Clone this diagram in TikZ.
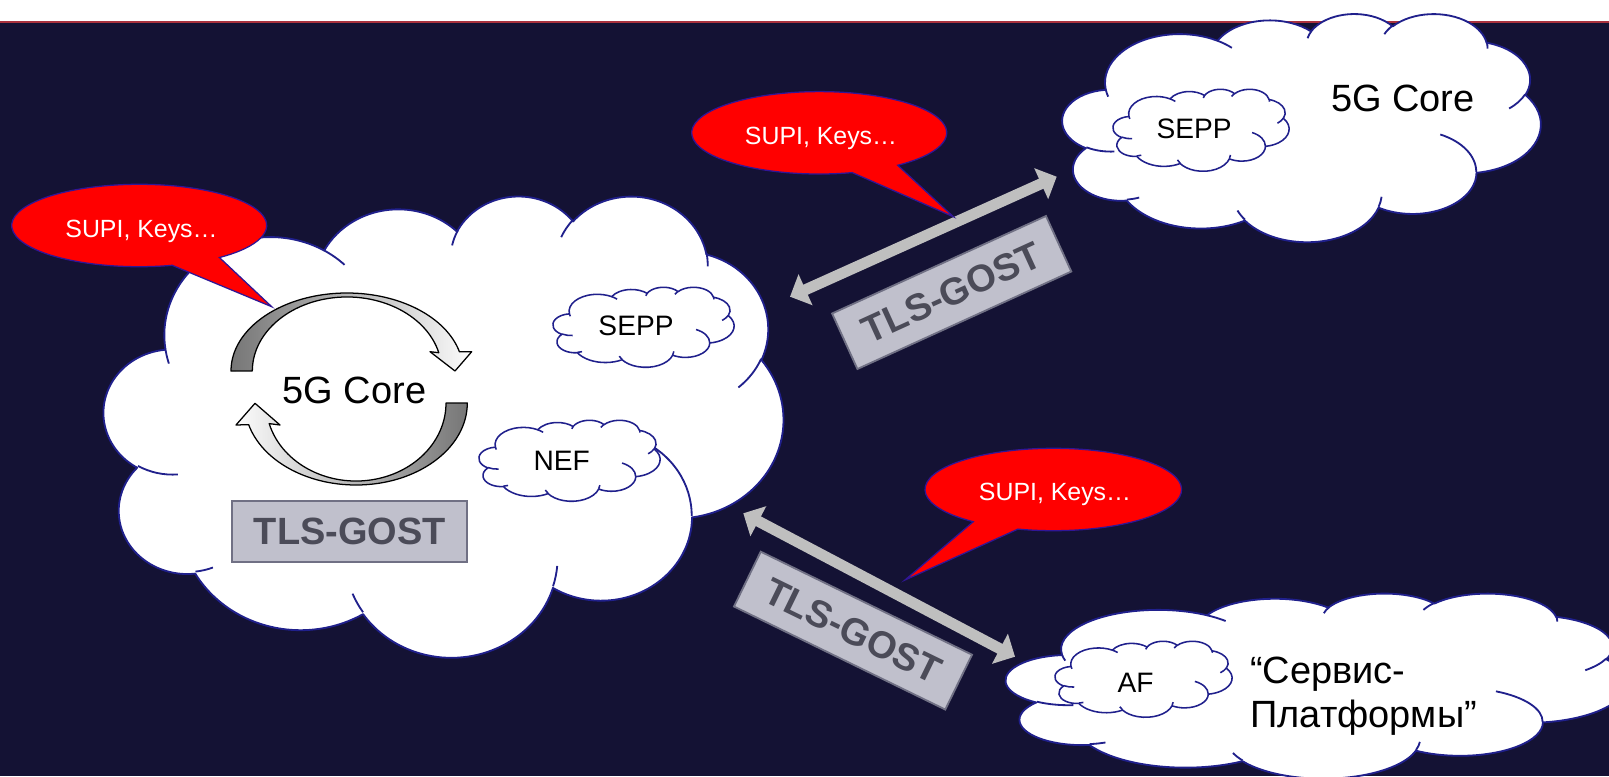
\documentclass[tikz,border=0pt]{standalone}
\usepackage{fontspec}
\setmainfont{Liberation Sans}
\usetikzlibrary{arrows.meta}

\definecolor{navybg}{RGB}{20,18,52}
\definecolor{headred}{RGB}{170,50,62}
\definecolor{cloudblue}{RGB}{32,32,140}
\definecolor{bubred}{RGB}{255,0,0}
\definecolor{bubline}{RGB}{48,22,150}
\definecolor{tlsfill}{RGB}{192,192,204}
\definecolor{tlsline}{RGB}{112,112,132}
\definecolor{tlstext}{RGB}{75,75,88}
\definecolor{linkgray}{RGB}{191,191,191}
\definecolor{ringdark}{RGB}{118,118,118}
\definecolor{ringlight}{RGB}{252,252,252}

% elliptic arc given DrawingML style: x radius, y radius, start angle, sweep
% (visual angles of the ellipse, turned into parametric ones)
\newcommand\ooarc[4]{arc[x radius=#1, y radius=#2, start angle={atan2((#1)*sin(#3),(#2)*cos(#3))}, delta angle={mod(atan2((#1)*sin((#3)+(#4)),(#2)*cos((#3)+(#4)))-atan2((#1)*sin(#3),(#2)*cos(#3))+720,360)}]}

% cloud in a 100 x 100 frame: #1,#2 left/top, #3,#4 frame unit (cm), #5 style
\newcommand\cloudshape[5]{%
  \begin{scope}[shift={(#1,#2)}, x=#3cm, y=-#4cm]
    \path[#5] (9.0278,33.2639)
      \ooarc{15.6319}{21.2731}{-190.4875}{123.7805}
      \ooarc{12.3449}{16.8218}{-144.1024}{89.9452}
      \ooarc{10.1042}{13.7616}{-145.8079}{99.7230}
      \ooarc{11.2431}{15.2662}{-130.9861}{117.2417}
      \ooarc{12.3449}{16.8356}{-78.7089}{109.0269}
      \ooarc{15.6829}{21.3426}{-46.2673}{130.2690}
      \ooarc{13.3912}{18.2106}{0.6250}{114.0333}
      \ooarc{15.6296}{21.3310}{22.4516}{115.1726}
      \ooarc{17.8704}{24.4051}{66.2426}{75.7110}
      \ooarc{10.0926}{13.6991}{-274.9421}{146.7356}
      \ooarc{10.0579}{13.7616}{-246.8285}{152.5189}
      -- cycle;
    \path[#5, fill=none]
      (10.8634,60.5949) \ooarc{10.0579}{13.7616}{86.742}{26.4295}
      (16.0370,80.7847) \ooarc{10.0926}{13.6991}{73.6105}{11.4475}
      (38.1435,90.4861) \ooarc{15.6296}{21.3310}{137.6242}{14.0811}
      (66.7292,80.4421) \ooarc{15.6296}{21.3310}{6.4533}{15.9984}
      (79.0023,53.1343) \ooarc{13.3912}{18.2106}{-70.2924}{70.9174}
      (96.7546,35.5417) \ooarc{12.3449}{16.8356}{30.3180}{27.7515}
      (88.7130,12.5602) \ooarc{11.2431}{15.2662}{-13.7443}{14.8589}
      (67.3102,9.1481) \ooarc{11.2431}{15.2662}{-149.1815}{18.1954}
      (51.2523,10.9259) \ooarc{10.1042}{13.7616}{-163.4943}{17.6864}
      (32.4074,12.0185) \ooarc{15.6319}{21.2731}{-66.7070}{12.3194}
      (9.5532,36.5486) \ooarc{15.6319}{21.2731}{157.6544}{11.8582};
  \end{scope}}

\begin{document}
\begin{tikzpicture}[x=0.025cm, y=-0.025cm,
  cloudbody/.style={fill=white, draw=cloudblue, line width=1.3pt, line join=round},
  smallcloud/.style={fill=white, draw=cloudblue, line width=1.1pt, line join=round},
  lbl/.style={inner sep=0pt, anchor=base},
  big/.style={font=\fontsize{27}{32}\selectfont},
  mid/.style={font=\fontsize{20}{24}\selectfont},
  sup/.style={font=\fontsize{17.7}{21}\selectfont, text=white},
  bubble/.style={fill=bubred, draw=bubline, line width=0.9pt, line join=miter},
  tlsbox/.style={draw=tlsline, fill=tlsfill, line width=1.3pt, minimum width=5.875cm,
    minimum height=1.525cm, inner sep=0pt, text=tlstext,
    font=\fontsize{27}{32}\selectfont\bfseries},
  link/.style={draw=linkgray, line width=7.8pt,
    {Triangle[length=12.1pt,width=23.5pt]}-{Triangle[length=12.1pt,width=23.5pt]}},
  ringarrow/.style={draw=black, line width=0.9pt, line join=round}]

\useasboundingbox (0,0) rectangle (1609,776);

% backdrop and header strip
\fill[navybg] (0,0) rectangle (1609,776);
\fill[white] (0,0) rectangle (1609,21);
\fill[headred] (0,21) rectangle (1609,23.3);

% home network cloud
\cloudshape{104}{195}{0.16975}{0.11525}{cloudbody}
\cloudshape{553}{287}{0.04525}{0.02}{smallcloud}
\cloudshape{479}{420}{0.04525}{0.02025}{smallcloud}

% circular arrows around the core
\path[ringarrow, left color=ringlight, right color=ringdark]
  (467.3,403) arc[start angle=0, end angle=164.7, x radius=111.3, y radius=82]
  -- (236,425) -- (255,403.3) -- (280,425) -- (269.2,423.6)
  arc[start angle=164.7, end angle=0, x radius=90, y radius=78] -- cycle;
\path[ringarrow, left color=ringdark, right color=ringlight]
  (231,371) arc[start angle=180, end angle=345.7, x radius=116, y radius=78]
  -- (471.7,351.7) -- (455,371) -- (430,351.7) -- (438.8,352.7)
  arc[start angle=345.7, end angle=180, x radius=94.7, y radius=74] -- cycle;

\node[lbl, big] (core1) at (354.5,403.3) {5G Core};
\node[lbl, mid] (sepp1) at (636,335) {SEPP};
\node[lbl, mid] (nef) at (561.7,470) {NEF};
\node[tlsbox] (tls1) at (349.8,531.7) {TLS-GOST};

% partner network cloud
\cloudshape{1062.5}{13.3}{0.1195}{0.057}{cloudbody}
\cloudshape{1113}{89}{0.044}{0.0205}{smallcloud}
\node[lbl, big] (core2) at (1403,111.7) {5G Core};
\node[lbl, mid] (sepp2) at (1194,138.3) {SEPP};

% service platform cloud
\cloudshape{1006}{593}{0.155}{0.04625}{cloudbody}
\cloudshape{1055}{641}{0.04425}{0.019}{smallcloud}
\node[lbl, mid] (af) at (1135.6,692.7) {AF};
\node[lbl, big, anchor=base west] (svc1) at (1250,683) {“Сервис-};
\node[lbl, big, anchor=base west] (svc2) at (1250,727) {Платформы”};

% protected links
\coordinate (upL) at (790,296.7);
\coordinate (upR) at (1056.7,176.7);
\coordinate (loL) at (743.3,513.3);
\coordinate (loR) at (1015,656.7);
\draw[link] (upL) -- (upR);
\draw[link] (loL) -- (loR);
\node[tlsbox, rotate=24.5] (tls2) at (951.7,292.5) {TLS-GOST};
\node[tlsbox, rotate=-26] (tls3) at (853,630.6) {TLS-GOST};

% speech bubbles
\coordinate (b1c) at (139.2,225.5);
\coordinate (b1t) at (271.7,306.7);
\path[bubble] (b1c) ++(75:127.5 and 41.2)
  arc[start angle=75, end angle=411, x radius=127.5, y radius=41.2] -- (b1t) -- cycle;
\node[lbl, sup] (sup1) at (141.5,237.3) {SUPI, Keys…};

\coordinate (b2c) at (819.2,132.8);
\coordinate (b2t) at (953.3,216.7);
\path[bubble] (b2c) ++(75:127.5 and 41.2)
  arc[start angle=75, end angle=412, x radius=127.5, y radius=41.2] -- (b2t) -- cycle;
\node[lbl, sup] (sup2) at (821,144) {SUPI, Keys…};

\coordinate (b3c) at (1053.3,489.5);
\coordinate (b3t) at (905,580);
\path[bubble] (b3c) ++(128.6:128.3 and 41.2)
  arc[start angle=128.6, end angle=466, x radius=128.3, y radius=41.2] -- (b3t) -- cycle;
\node[lbl, sup] (sup3) at (1055,500.7) {SUPI, Keys…};

\end{tikzpicture}
\end{document}
